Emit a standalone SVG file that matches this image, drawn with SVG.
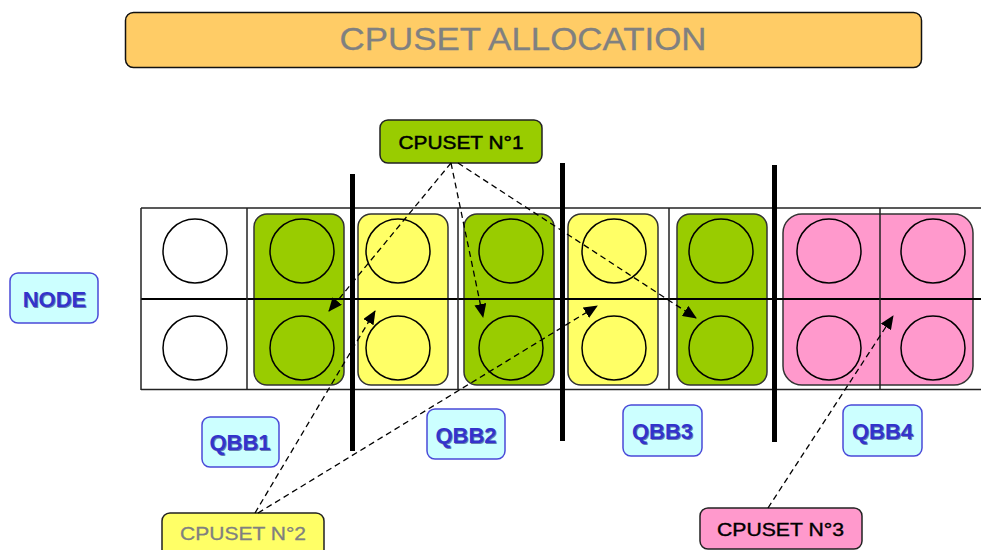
<svg xmlns="http://www.w3.org/2000/svg" width="981" height="550" viewBox="0 0 981 550">
<style>
.grid{stroke:#222;stroke-width:1.5;fill:none}
.mid{stroke:#000;stroke-width:2;fill:none}
.thick{stroke:#000;stroke-width:5}
.cpu{fill:none;stroke:#000;stroke-width:1.5}
.cpuw{fill:#fff;stroke:#000;stroke-width:1.5}
.g{fill:#99CC00;stroke:#333;stroke-width:1.5}
.y{fill:#FFFF66;stroke:#333;stroke-width:1.5}
.p{fill:#FF99CC;stroke:#333;stroke-width:1.5}
.lbl{fill:#CCFFFF;stroke:#4a4ad8;stroke-width:1.5}
.lt{font-family:"Liberation Sans",Arial,sans-serif;font-weight:bold;font-size:22px;fill:#3333CC;text-anchor:middle}
.ls{font-family:"Liberation Sans",Arial,sans-serif;font-weight:bold;font-size:22px;fill:#000066;opacity:0.5;text-anchor:middle}
.cs{font-family:"Liberation Sans",Arial,sans-serif;font-size:19px;text-anchor:middle}
.conn{stroke:#000;stroke-width:1.3;stroke-dasharray:6 4;fill:none;marker-end:url(#ah)}
</style>
<defs>
<marker id="ah" viewBox="0 0 14 12" refX="13" refY="6" markerWidth="14" markerHeight="12" markerUnits="userSpaceOnUse" orient="auto">
<path d="M0,0 L14,6 L0,12 Z" fill="#000"/>
</marker>
</defs>
<rect width="981" height="550" fill="#fff"/>

<g id="title">
<rect x="125.5" y="12.5" width="796" height="55" rx="8" fill="#FFCC66" stroke="#111" stroke-width="1.5"/>
<text x="523" y="50" font-family="Liberation Sans,Arial,sans-serif" font-size="32" fill="#808080" stroke="#808080" stroke-width="0.3" text-anchor="middle" textLength="367" lengthAdjust="spacingAndGlyphs">CPUSET ALLOCATION</text>
</g>

<g id="groups">
<rect class="g" x="254" y="214" width="90" height="171" rx="13"/>
<rect class="y" x="358" y="214" width="90" height="171" rx="13"/>
<rect class="g" x="464" y="214" width="90" height="171" rx="13"/>
<rect class="y" x="568" y="214" width="90" height="171" rx="13"/>
<rect class="g" x="677" y="214" width="90" height="171" rx="13"/>
<rect class="p" x="783" y="214" width="190" height="171" rx="19"/>
</g>

<g id="grid">
<line class="grid" x1="141" y1="208" x2="981" y2="208"/>
<line class="grid" x1="141" y1="389.5" x2="981" y2="389.5"/>
<line class="mid" x1="141" y1="299" x2="981" y2="299"/>
<line class="grid" x1="141" y1="208" x2="141" y2="390"/>
<line class="grid" x1="247" y1="208" x2="247" y2="390"/>
<line class="grid" x1="458" y1="208" x2="458" y2="390"/>
<line class="grid" x1="669" y1="208" x2="669" y2="390"/>
<line class="grid" x1="880" y1="208" x2="880" y2="390"/>
</g>

<g id="cpus">
<circle class="cpuw" cx="195" cy="251" r="32"/>
<circle class="cpuw" cx="195" cy="348" r="32"/>
<circle class="cpu" cx="302" cy="251" r="32"/>
<circle class="cpu" cx="302" cy="348" r="32"/>
<circle class="cpu" cx="398" cy="251" r="32"/>
<circle class="cpu" cx="398" cy="348" r="32"/>
<circle class="cpu" cx="511" cy="251" r="32"/>
<circle class="cpu" cx="511" cy="348" r="32"/>
<circle class="cpu" cx="614" cy="251" r="32"/>
<circle class="cpu" cx="614" cy="348" r="32"/>
<circle class="cpu" cx="721" cy="251" r="32"/>
<circle class="cpu" cx="721" cy="348" r="32"/>
<circle class="cpu" cx="829" cy="251" r="32"/>
<circle class="cpu" cx="829" cy="348" r="32"/>
<circle class="cpu" cx="933" cy="251" r="32"/>
<circle class="cpu" cx="933" cy="348" r="32"/>
</g>

<g id="qbb-separators">
<line class="thick" x1="352.5" y1="174" x2="352.5" y2="451"/>
<line class="thick" x1="562.5" y1="163" x2="562.5" y2="441"/>
<line class="thick" x1="774.5" y1="165" x2="774.5" y2="442"/>
</g>

<g id="node">
<rect class="lbl" x="10" y="273" width="88" height="50" rx="8"/>
<text class="ls" x="55.5" y="307.5">NODE</text>
<text class="lt" x="54.5" y="306.5">NODE</text>
</g>
<g id="qbb1">
<rect class="lbl" x="202" y="417" width="77" height="50" rx="8"/>
<text class="ls" x="241" y="451">QBB1</text>
<text class="lt" x="240" y="450">QBB1</text>
</g>
<g id="qbb2">
<rect class="lbl" x="427" y="409" width="78" height="50" rx="8"/>
<text class="ls" x="467" y="443.5">QBB2</text>
<text class="lt" x="466" y="442.5">QBB2</text>
</g>
<g id="qbb3">
<rect class="lbl" x="623" y="405" width="79" height="51" rx="8"/>
<text class="ls" x="663.5" y="440">QBB3</text>
<text class="lt" x="662.5" y="439">QBB3</text>
</g>
<g id="qbb4">
<rect class="lbl" x="843" y="405" width="79" height="51" rx="8"/>
<text class="ls" x="883.5" y="440">QBB4</text>
<text class="lt" x="882.5" y="439">QBB4</text>
</g>

<g id="cpuset1">
<rect x="380" y="120" width="162" height="43" rx="8" fill="#99CC00" stroke="#222" stroke-width="1.5"/>
<text class="cs" x="461" y="148.5" fill="#000" stroke="#000" stroke-width="0.5" textLength="125" lengthAdjust="spacingAndGlyphs">CPUSET N°1</text>
</g>
<g id="cpuset2">
<rect x="162" y="513" width="162" height="45" rx="8" fill="#FFFF66" stroke="#222" stroke-width="1.5"/>
<text class="cs" x="243" y="539.5" fill="#808080" stroke="#808080" stroke-width="0.3" textLength="126" lengthAdjust="spacingAndGlyphs">CPUSET N°2</text>
</g>
<g id="cpuset3">
<rect x="700" y="508" width="162" height="41" rx="8" fill="#FF99CC" stroke="#222" stroke-width="1.5"/>
<text class="cs" x="780.5" y="536" fill="#000" stroke="#000" stroke-width="0.4" textLength="127" lengthAdjust="spacingAndGlyphs">CPUSET N°3</text>
</g>

<g id="connectors">
<line class="conn" x1="451" y1="163" x2="329" y2="311"/>
<line class="conn" x1="451" y1="163" x2="483" y2="317"/>
<line class="conn" x1="458" y1="163" x2="696" y2="318"/>
<line class="conn" x1="255" y1="513" x2="375" y2="311"/>
<line class="conn" x1="258" y1="513" x2="597" y2="306"/>
<line class="conn" x1="768" y1="508" x2="893" y2="316"/>
</g>
</svg>
